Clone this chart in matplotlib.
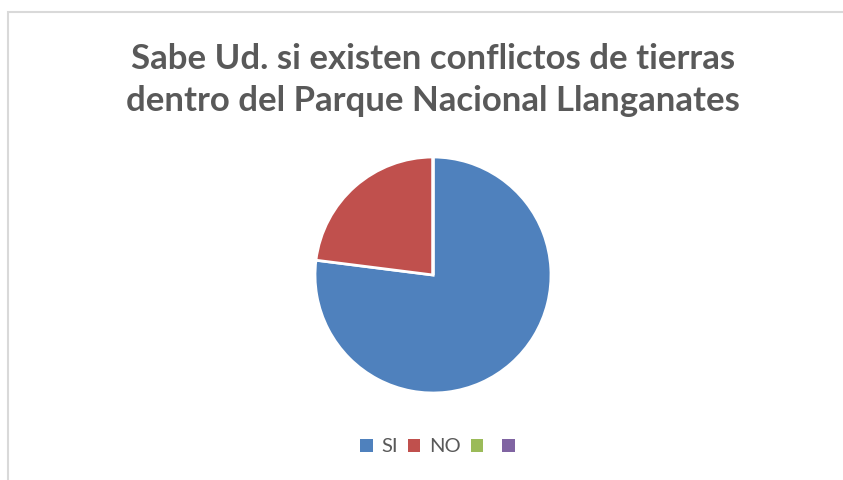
import matplotlib.pyplot as plt
from matplotlib.patches import Rectangle, Patch

# Datos de la encuesta
labels = ['SI', 'NO', '', '']
values = [77, 23, 0, 0]
colors = ['#4F81BD', '#C0504D', '#9BBB59', '#8064A2']
title = 'Sabe Ud. si existen conflictos de tierras\ndentro del Parque Nacional Llanganates'

W, H = 843, 480
fig = plt.figure(figsize=(W / 100, H / 100), dpi=100)

# marco del grafico (se sale por la derecha y abajo)
fig.patches.append(Rectangle((8 / W, -0.1), 1.1, 1 - 12 / H + 0.1,
                             transform=fig.transFigure, fill=False,
                             edgecolor='#D9D9D9', linewidth=1.5))

# pie centrado en (433, 275), radio 118 px
cx, cy, r = 433, 275, 118
ax = fig.add_axes([(cx - r) / W, (H - cy - r) / H, 2 * r / W, 2 * r / H])
wedges, _ = ax.pie(values, colors=colors, startangle=90, counterclock=False,
                   wedgeprops=dict(edgecolor='white', linewidth=2))
ax.set_xlim(-1, 1)
ax.set_ylim(-1, 1)
ax.axis('off')

fig.text(433 / W, 1 - 80 / H, title, ha='center', va='center',
         fontsize=25, fontweight='bold', color='#595959',
         family='Lato', linespacing=1.38)

handles = [Patch(facecolor=c) for c in colors]
fig.legend(handles, labels, loc='center', bbox_to_anchor=(442 / W, 1 - 447 / H),
           ncol=4, frameon=False, handlelength=0.6, handleheight=0.6,
           handletextpad=0.45, columnspacing=0.5,
           prop={'family': 'Lato', 'size': 14.5}, labelcolor='#595959')

fig.savefig('out.png', dpi=100)
